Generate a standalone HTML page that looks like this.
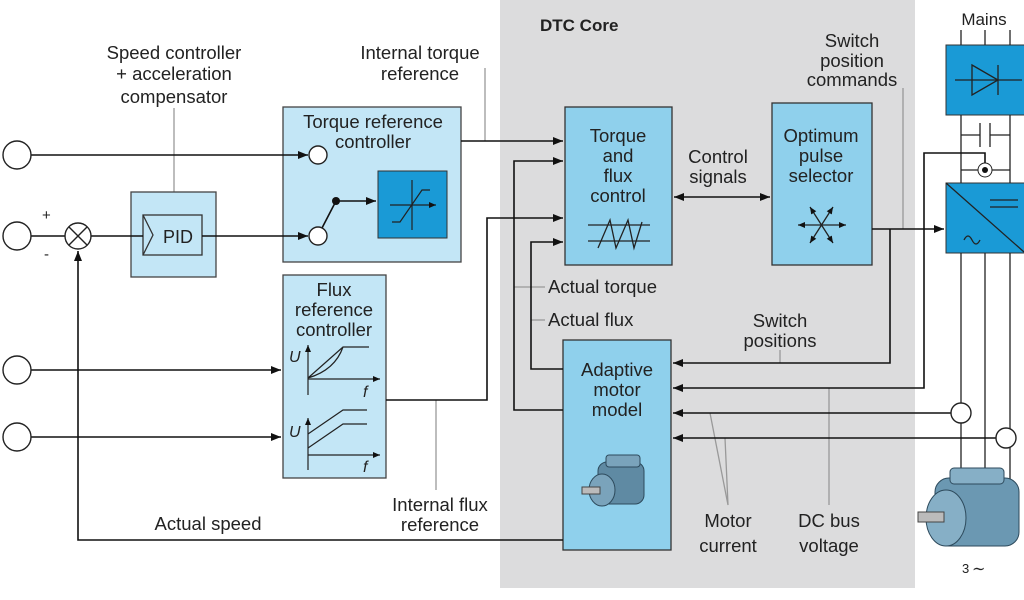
<!DOCTYPE html>
<html><head><meta charset="utf-8"><style>
html,body{margin:0;padding:0;background:#fff;}
svg{display:block;}
text{font-family:"Liberation Sans",sans-serif;fill:#222;}
</style></head><body>
<svg width="1024" height="600" viewBox="0 0 1024 600" xmlns="http://www.w3.org/2000/svg">
<defs>
<marker id="a" markerWidth="10" markerHeight="8" refX="10" refY="4" orient="auto-start-reverse" markerUnits="userSpaceOnUse"><path d="M0,0 L10,4 L0,8 Z" fill="#111"/></marker>
<marker id="s" markerWidth="7" markerHeight="6" refX="7" refY="3" orient="auto-start-reverse" markerUnits="userSpaceOnUse"><path d="M0,0 L7,3 L0,6 Z" fill="#111"/></marker>
</defs>
<rect x="500" y="0" width="415" height="588" fill="#dcdcdd"/>
<text x="540" y="31" font-size="17" font-weight="bold">DTC Core</text>

<g fill="none" stroke="#999" stroke-width="1.3">
<line x1="174" y1="108" x2="174" y2="192"/>
<line x1="485" y1="68" x2="485" y2="141"/>
<line x1="436" y1="400" x2="436" y2="490"/>
<line x1="514" y1="287" x2="545" y2="287" />
<line x1="531" y1="320" x2="545" y2="320"/>
<line x1="903" y1="88" x2="903" y2="229"/>
<line x1="780" y1="350" x2="780" y2="363"/>
<line x1="829" y1="388" x2="829" y2="505"/>
<polyline points="710,413 728,505 725,438"/>
</g>

<g stroke="#444" stroke-width="1.3" fill="#c3e6f6">
<rect x="131" y="192" width="85" height="85"/>
<rect x="283" y="107" width="178" height="155"/>
<rect x="283" y="275" width="103" height="203"/>
</g>
<g stroke="#333" stroke-width="1.3" fill="#8fd0ec">
<rect x="565" y="107" width="107" height="158"/>
<rect x="772" y="103" width="100" height="162"/>
<rect x="563" y="340" width="108" height="210"/>
</g>
<rect x="143" y="215" width="59" height="40" fill="#c3e6f6" stroke="#333" stroke-width="1.3"/>
<polyline points="143,215 153,235 143,255" fill="none" stroke="#333" stroke-width="1.3"/>
<text x="178" y="243" font-size="18" text-anchor="middle">PID</text>
<rect x="378" y="171" width="69" height="67" fill="#1a9ad6" stroke="#333"/>
<g stroke="#222" stroke-width="1.2" fill="none">
<line x1="412" y1="180" x2="412" y2="230"/><line x1="390" y1="205" x2="436" y2="205" marker-end="url(#s)"/>
<polyline points="392,222 400,222 422,190 430,190"/>
</g>

<rect x="946" y="45" width="80" height="70" fill="#1a9ad6" stroke="#333"/>
<rect x="946" y="183" width="80" height="70" fill="#1a9ad6" stroke="#333"/>
<g stroke="#222" stroke-width="1.3" fill="none">
<line x1="961" y1="30" x2="961" y2="45"/><line x1="985" y1="30" x2="985" y2="45"/><line x1="1010" y1="30" x2="1010" y2="45"/>
<line x1="955" y1="80" x2="1022" y2="80"/><path d="M972,65 L998,80 L972,95 Z"/><line x1="998" y1="65" x2="998" y2="95"/>
<line x1="961" y1="115" x2="961" y2="183"/><line x1="1010" y1="115" x2="1010" y2="183"/>
<line x1="961" y1="135" x2="980" y2="135"/><line x1="990" y1="135" x2="1010" y2="135"/>
<line x1="980" y1="123" x2="980" y2="147"/><line x1="990" y1="123" x2="990" y2="147"/>
<line x1="961" y1="170" x2="1010" y2="170"/>
<line x1="946" y1="183" x2="1024" y2="252"/>
<line x1="990" y1="200" x2="1018" y2="200"/><line x1="990" y1="207" x2="1018" y2="207"/>
<path d="M964,240 q4,-8 8,0 q4,8 8,0"/>
<line x1="961" y1="253" x2="961" y2="480"/><line x1="985" y1="253" x2="985" y2="480"/><line x1="1010" y1="253" x2="1010" y2="480"/>
</g>
<circle cx="985" cy="170" r="7" fill="#fff" stroke="#222"/><circle cx="985" cy="170" r="3" fill="#111"/>
<text x="984" y="25" font-size="17" text-anchor="middle">Mains</text>

<g stroke="#111" stroke-width="1.6" fill="none">
<line x1="31" y1="155" x2="308" y2="155" marker-end="url(#a)"/>
<line x1="31" y1="236" x2="65" y2="236"/>
<line x1="91" y1="236" x2="143" y2="236"/>
<line x1="202" y1="236" x2="308" y2="236" marker-end="url(#a)"/>
<line x1="322" y1="228" x2="336" y2="201"/>
<line x1="336" y1="201" x2="376" y2="201" marker-end="url(#a)"/>
<line x1="461" y1="141" x2="563" y2="141" marker-end="url(#a)"/>
<line x1="31" y1="370" x2="281" y2="370" marker-end="url(#a)"/>
<line x1="31" y1="437" x2="281" y2="437" marker-end="url(#a)"/>
<polyline points="386,400 487,400 487,218 563,218" marker-end="url(#a)"/>
<polyline points="563,410 514,410 514,161 563,161" marker-end="url(#a)"/>
<polyline points="563,369 531,369 531,242 563,242" marker-end="url(#a)"/>
<line x1="674" y1="197" x2="770" y2="197" marker-start="url(#a)" marker-end="url(#a)"/>
<line x1="872" y1="229" x2="944" y2="229" marker-end="url(#a)"/>
<polyline points="890,229 890,363 673,363" marker-end="url(#a)"/>
<polyline points="985,163 985,153 924,153 924,388 673,388" marker-end="url(#a)"/>
<line x1="951" y1="413" x2="673" y2="413" marker-end="url(#a)"/>
<line x1="996" y1="438" x2="673" y2="438" marker-end="url(#a)"/>
<polyline points="563,540 78,540 78,251" marker-end="url(#a)"/>
</g>
<circle cx="336" cy="201" r="4" fill="#111"/>
<g fill="#fff" stroke="#222" stroke-width="1.4">
<circle cx="17" cy="155" r="14"/><circle cx="17" cy="236" r="14"/><circle cx="17" cy="370" r="14"/><circle cx="17" cy="437" r="14"/>
<circle cx="318" cy="155" r="9"/><circle cx="318" cy="236" r="9"/>
<circle cx="961" cy="413" r="10"/><circle cx="1006" cy="438" r="10"/>
<circle cx="78" cy="236" r="13"/>
</g>
<g stroke="#222" stroke-width="1.4"><line x1="69" y1="227" x2="87" y2="245"/><line x1="87" y1="227" x2="69" y2="245"/></g>
<text x="42" y="220" font-size="15">+</text><text x="44" y="259" font-size="15">-</text>

<g stroke="#222" stroke-width="1.3" fill="none">
<line x1="588" y1="225" x2="650" y2="225"/><line x1="588" y1="241" x2="650" y2="241"/>
<polyline points="598,248 610,220 616,248 628,220 634,248 642,222"/>
</g>
<g stroke="#222" stroke-width="1.3">
<line x1="798" y1="225" x2="846" y2="225" marker-start="url(#s)" marker-end="url(#s)"/>
<line x1="810" y1="207" x2="833" y2="243" marker-start="url(#s)" marker-end="url(#s)"/>
<line x1="833" y1="207" x2="810" y2="243" marker-start="url(#s)" marker-end="url(#s)"/>
</g>
<g stroke="#222" stroke-width="1.2" fill="none">
<line x1="308" y1="395" x2="308" y2="345" marker-end="url(#s)"/><line x1="308" y1="379" x2="380" y2="379" marker-end="url(#s)"/>
<path d="M308,378 L343,347 L369,347 M308,378 Q335,370 343,347"/>
<line x1="308" y1="470" x2="308" y2="418" marker-end="url(#s)"/><line x1="308" y1="455" x2="380" y2="455" marker-end="url(#s)"/>
<path d="M308,434 L343,410 L367,410 M308,448 L343,424 L367,424"/>
</g>
<g font-size="16" font-style="italic"><text x="289" y="362">U</text><text x="363" y="397">f</text><text x="289" y="437">U</text><text x="363" y="472">f</text></g>

<g>
<rect x="598" y="462" width="46" height="42" rx="9" fill="#5f8aa3" stroke="#2d4a5c"/>
<rect x="606" y="455" width="34" height="12" rx="3" fill="#7aa3bb" stroke="#2d4a5c"/>
<ellipse cx="602" cy="490" rx="13" ry="16" fill="#7aa3bb" stroke="#2d4a5c"/>
<rect x="582" y="487" width="18" height="7" fill="#bbb" stroke="#444"/>
<rect x="935" y="478" width="84" height="68" rx="14" fill="#6b98b2" stroke="#2d4a5c"/>
<rect x="950" y="468" width="54" height="16" rx="4" fill="#86afc6" stroke="#2d4a5c"/>
<ellipse cx="946" cy="518" rx="20" ry="28" fill="#86afc6" stroke="#2d4a5c"/>
<rect x="918" y="512" width="26" height="10" fill="#bbb" stroke="#444"/>
</g>
<text x="962" y="573" font-size="13">3</text><text x="972" y="574" font-size="16">∼</text>

<g font-size="18.5" text-anchor="middle">
<text x="174" y="59">Speed controller</text><text x="174" y="80">+ acceleration</text><text x="174" y="103">compensator</text>
<text x="420" y="59">Internal torque</text><text x="420" y="80">reference</text>
<text x="373" y="128">Torque reference</text><text x="373" y="148">controller</text>
<text x="334" y="296">Flux</text><text x="334" y="316">reference</text><text x="334" y="336">controller</text>
<text x="618" y="142">Torque</text><text x="618" y="162">and</text><text x="618" y="182">flux</text><text x="618" y="202">control</text>
<text x="718" y="163">Control</text><text x="718" y="183">signals</text>
<text x="821" y="142">Optimum</text><text x="821" y="162">pulse</text><text x="821" y="182">selector</text>
<text x="852" y="47">Switch</text><text x="852" y="67">position</text><text x="852" y="86">commands</text>
<text x="617" y="376">Adaptive</text><text x="617" y="396">motor</text><text x="617" y="416">model</text>
<text x="780" y="327">Switch</text><text x="780" y="347">positions</text>
<text x="440" y="511">Internal flux</text><text x="440" y="531">reference</text>
<text x="208" y="530">Actual speed</text>
<text x="728" y="527">Motor</text><text x="728" y="552">current</text>
<text x="829" y="527">DC bus</text><text x="829" y="552">voltage</text>
</g>
<text x="548" y="293" font-size="18.5">Actual torque</text>
<text x="548" y="326" font-size="18.5">Actual flux</text>
</svg>
</body></html>
